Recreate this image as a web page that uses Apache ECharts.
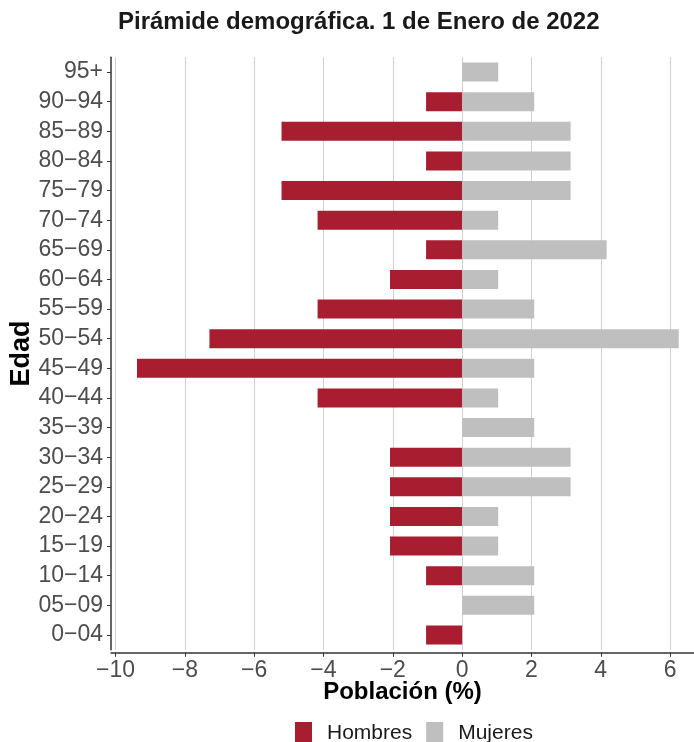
<!DOCTYPE html>
<html><head><meta charset="utf-8">
<script src="https://cdn.jsdelivr.net/npm/echarts@6/dist/echarts.min.js"></script>
<style>html,body{margin:0;padding:0;background:#fff}#c{width:694px;height:742px}</style>
</head><body><div id="c"></div>
<script>
const categories = ["0−04","05−09","10−14","15−19","20−24","25−29","30−34","35−39","40−44","45−49","50−54","55−59","60−64","65−69","70−74","75−79","80−84","85−89","90−94","95+"];
const hombres = [-1.04,0,-1.04,-2.08,-2.08,-2.08,-2.08,0,-4.17,-9.38,-7.29,-4.17,-2.08,-1.04,-4.17,-5.21,-1.04,-5.21,-1.04,0];
const mujeres = [0,2.08,2.08,1.04,1.04,3.13,3.13,2.08,1.04,2.08,6.25,2.08,1.04,4.17,1.04,3.13,3.13,3.13,2.08,1.04];
const xTicks = [-10,-8,-6,-4,-2,0,2,4,6];

const FONT = '"Liberation Sans", Arial, sans-serif';
const chart = echarts.init(document.getElementById('c'), null, {renderer:'canvas'});
chart.setOption({
  animation:false,
  textStyle:{fontFamily:FONT},
  title:{text:'Pirámide demográfica. 1 de Enero de 2022', left:118, top:10, padding:0,
    textStyle:{fontFamily:FONT,fontWeight:'bold',fontSize:24,color:'#1a1a1a'}},
  legend:{top:722, left:295, padding:0, itemWidth:17, itemHeight:22, itemGap:14,
    textStyle:{fontFamily:FONT,fontSize:21,color:'#1a1a1a',padding:[0,0,0,10]},
    data:[{name:'Hombres',icon:'rect'},{name:'Mujeres',icon:'rect'}]},
  grid:{left:111, right:0, top:57.2, height:592.6, containLabel:false, outerBoundsMode:'none'},
  xAxis:{type:'value', min:-10.13, max:6.69, offset:3,
    name:'Población (%)', nameLocation:'middle', nameGap:28, nameMoveOverlap:false,
    nameTextStyle:{fontFamily:FONT,fontWeight:'bold',fontSize:24,color:'#000'},
    axisLine:{show:true,lineStyle:{color:'#333',width:1.5}},
    axisTick:{show:true,length:4,customValues:xTicks,lineStyle:{color:'#333'}},
    axisLabel:{customValues:xTicks,fontSize:23,color:'#4d4d4d',margin:6,
      formatter:v=>String(v).replace('-','−')},
    splitLine:{show:true,lineStyle:{color:'#d0d0d0',width:1}}},
  yAxis:{type:'category', data:categories,
    name:'Edad', nameLocation:'middle', nameGap:76, nameRotate:90, nameMoveOverlap:false,
    nameTextStyle:{fontFamily:FONT,fontWeight:'bold',fontSize:27,color:'#000'},
    axisLine:{show:true,onZero:false,lineStyle:{color:'#333',width:1.5}},
    axisTick:{show:true,length:4,alignWithLabel:true,interval:0,lineStyle:{color:'#333'}},
    axisLabel:{fontSize:23,color:'#4d4d4d',margin:8,interval:0},
    splitLine:{show:false}},
  series:[
    {name:'Hombres',type:'bar',data:hombres,barWidth:19,barGap:'-100%',itemStyle:{color:'#a91d31'}},
    {name:'Mujeres',type:'bar',data:mujeres,barWidth:19,itemStyle:{color:'#bfbfbf'}}
  ]
});
</script></body></html>
